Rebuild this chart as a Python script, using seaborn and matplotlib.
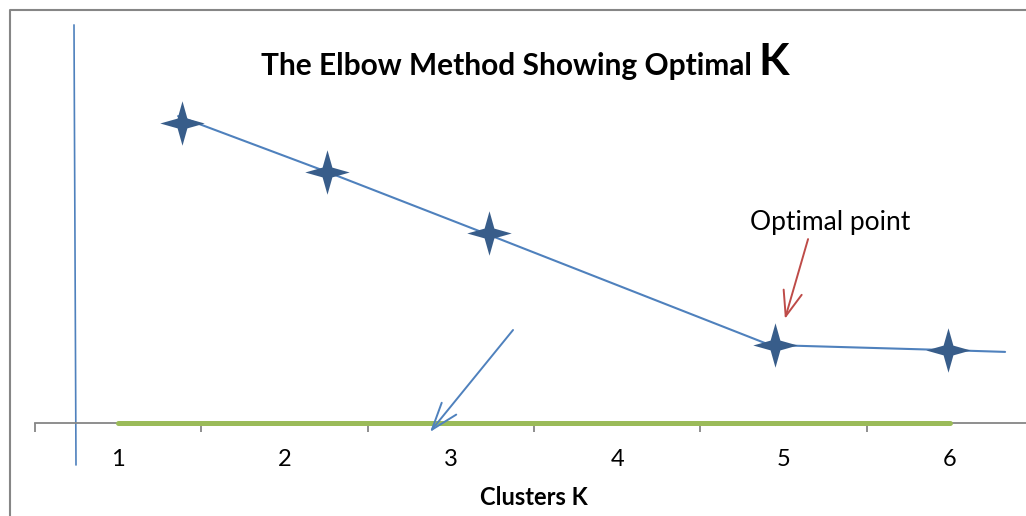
import numpy as np
import pandas as pd
import matplotlib.pyplot as plt
import seaborn as sns
from matplotlib.path import Path
from matplotlib.lines import Line2D

# data
clusters = [1, 2, 3, 4, 5, 6]
tick_labels = ["1", "2", "3", "4", "5", "6"]

# star markers (k position, distortion)
star_k = [1.385, 2.256, 3.23, 4.948, 5.988]
star_wcss = [10.0, 8.37, 6.33, 2.6, 2.43]

# hand drawn line through the stars
line_k = [1.361, 2.256, 3.23, 4.918, 5.988, 6.331]
line_wcss = [10.23, 8.37, 6.27, 2.6, 2.43, 2.37]

# green base line
base_k = [1, 6]
base_wcss = [0, 0]

# extra drawn lines / arrows
vline_k = [0.7356, 0.7476]
vline_wcss = [13.27, -1.4]
blue_arrow_from = (3.374, 3.1)
blue_arrow_to = (2.875, -0.3)
red_arrow_from = (5.147, 6.13)
red_arrow_to = (5.008, 3.47)
optimal_label_pos = (5.279, 6.67)

sns.set_style("white")
plt.rcParams['font.family'] = ['Lato', 'DejaVu Sans']
plt.rcParams['text.color'] = 'black'
plt.rcParams['xtick.color'] = 'black'

fig = plt.figure(figsize=(10.26, 5.16), dpi=100)
ax = fig.add_axes([0, 0, 1, 1])
ax.set_xlim(0.2909, 6.4567)
ax.set_ylim(-3.1, 14.1)

# axis styling: only bottom spine at y = 0
for side in ["top", "right", "left"]:
    ax.spines[side].set_visible(False)
ax.spines["bottom"].set_position(("data", 0))
ax.spines["bottom"].set_bounds(0.5, 6.4567)
ax.spines["bottom"].set_color("#868686")
ax.spines["bottom"].set_linewidth(1.3)
ax.set_yticks([])
ax.set_xticks(clusters)
ax.set_xticklabels(tick_labels, fontsize=17)
ax.set_xticks(np.arange(0.5, 6.0, 1.0), minor=True)
ax.tick_params(axis="x", which="major", bottom=True, length=0, pad=19, labelcolor="black")
ax.tick_params(axis="x", which="minor", bottom=True, length=6.5, width=1.3,
               color="#868686", direction="out")

# green base line
base_df = pd.DataFrame({"k": base_k, "wcss": base_wcss})
sns.lineplot(data=base_df, x="k", y="wcss", ax=ax, color="#9BBB59", linewidth=3.6,
             solid_capstyle="round", zorder=3)

# vertical line on the left
vline_df = pd.DataFrame({"k": vline_k, "wcss": vline_wcss})
sns.lineplot(data=vline_df, x="k", y="wcss", ax=ax, sort=False, orient="y",
             color="#4F81BD", linewidth=1.2)

# elbow line
line_df = pd.DataFrame({"k": line_k, "wcss": line_wcss})
sns.lineplot(data=line_df, x="k", y="wcss", ax=ax, sort=False,
             color="#4F81BD", linewidth=1.5, zorder=4)

# four point star markers
s = 0.22
star = Path([(0, 1), (s, s), (1, 0), (s, -s), (0, -1), (-s, -s), (-1, 0), (-s, s), (0, 1)],
            [Path.MOVETO] + [Path.LINETO] * 7 + [Path.CLOSEPOLY])
star_df = pd.DataFrame({"k": star_k, "wcss": star_wcss})
sns.scatterplot(data=star_df, x="k", y="wcss", ax=ax, marker=star, s=32 ** 2,
                color="#385D8A", edgecolor="#385D8A", linewidth=0, zorder=5)

# arrows
ax.annotate("", xy=blue_arrow_to, xytext=blue_arrow_from,
            arrowprops=dict(arrowstyle="->,head_length=1.3,head_width=0.45",
                            color="#4F81BD", lw=1.4, mutation_scale=15,
                            shrinkA=0, shrinkB=0))
ax.annotate("", xy=red_arrow_to, xytext=red_arrow_from,
            arrowprops=dict(arrowstyle="->,head_length=1.2,head_width=0.45",
                            color="#BE4B48", lw=1.4, mutation_scale=15,
                            shrinkA=0, shrinkB=0))
ax.text(*optimal_label_pos, "Optimal point", fontsize=19, ha="center", va="center")

# x axis label
ax.text(3.5, -2.47, "Clusters K", fontsize=17, fontweight="bold", ha="center", va="center")

ax.set_xlabel("")
ax.set_ylabel("")

# title, with a bigger K
fig.text(752 / 1026, 1 - 75 / 516, "The Elbow Method Showing Optimal", fontsize=21.5,
         fontweight="bold", ha="right", va="baseline")
fig.text(758 / 1026, 1 - 75 / 516, "K", fontsize=32, fontweight="bold",
         ha="left", va="baseline")

# chart frame (left and top edges visible)
fx = 10 / 1026
fy = 1 - 10 / 516
fig.add_artist(Line2D([fx, fx, 1], [0, fy, fy], transform=fig.transFigure,
                      color="#868686", linewidth=1.5))

fig.savefig("out.png", dpi=100)
